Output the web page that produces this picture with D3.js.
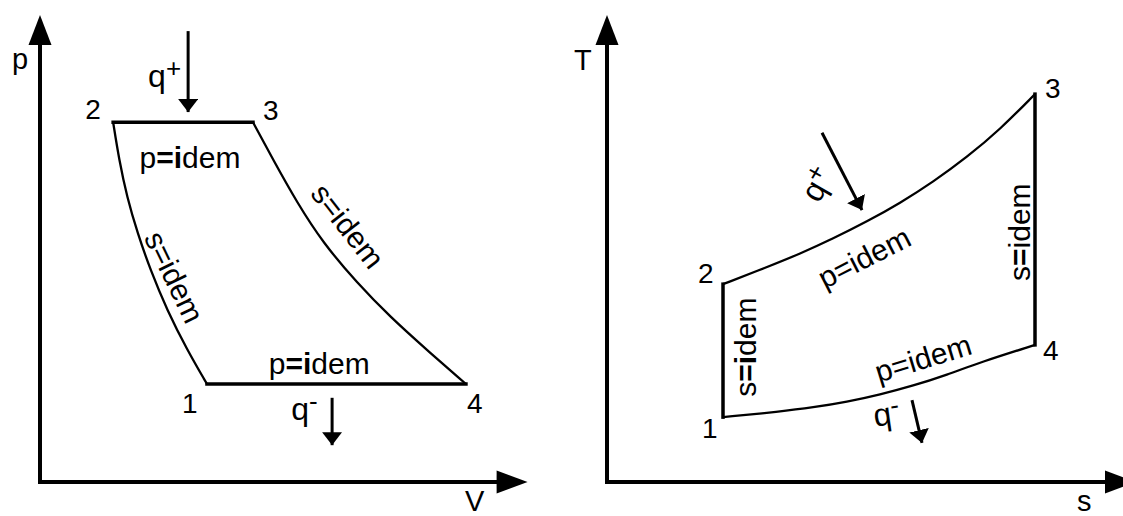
<!DOCTYPE html>
<html lang="en">
<head>
  <meta charset="UTF-8" />
  <script src="https://d3js.org/d3.v7.min.js"></script>
  <title>p-V and T-s diagrams</title>
  <style>
    html, body { margin: 0; padding: 0; background: #fff; }
    svg { display: block; font-family: "Liberation Sans", Arial, sans-serif; }
  </style>
</head>
<body>
  <svg width="1123" height="516"></svg>

  <script>
    // ---- data: p-V diagram (V, p) ----
    const pvStates = [
      { name: "1", v: 36.3, p: 21.3, dx: -25, dy: 29 },
      { name: "2", v: 15.9, p: 78.2, dx: -28, dy: -3 },
      { name: "3", v: 46.3, p: 78.2, dx: 10, dy: -2 },
      { name: "4", v: 92.6, p: 21.3, dx: 1, dy: 29 }
    ];
    // compression 1 -> 2 (isentrope)
    const pvCompression = [
      [36.3, 21.3], [32.0, 28.7], [27.6, 37.4], [24.0, 46.1],
      [21.2, 54.1], [18.9, 62.0], [17.2, 70.0], [15.9, 78.2]
    ];
    // expansion 3 -> 4 (isentrope)
    const pvExpansion = [
      [46.3, 78.2], [50.7, 70.0], [55.9, 60.7], [61.5, 52.0],
      [68.9, 43.3], [76.1, 35.9], [84.1, 28.7], [92.6, 21.3]
    ];

    // ---- data: T-s diagram (s, T) ----
    const tsStates = [
      { name: "1", s: 23.2, t: 14.1, dx: -21, dy: 21 },
      { name: "2", s: 23.2, t: 43.0, dx: -25, dy: -1 },
      { name: "3", s: 85.6, t: 84.3, dx: 10, dy: 4 },
      { name: "4", s: 85.6, t: 29.8, dx: 8, dy: 15 }
    ];
    // heat addition 2 -> 3 (isobar)
    const tsHeating = [
      [23.2, 43.0], [32.0, 46.7], [38.6, 49.6], [45.2, 52.9], [52.0, 56.6],
      [58.6, 60.6], [65.2, 65.2], [72.0, 70.6], [78.6, 76.6], [85.6, 84.3]
    ];
    // heat rejection 4 -> 1 (isobar)
    const tsCooling = [
      [23.2, 14.1], [34.6, 15.3], [41.2, 16.2], [48.0, 17.4], [54.6, 19.0],
      [61.2, 20.9], [68.0, 23.3], [74.6, 26.0], [85.6, 29.8]
    ];

    // process labels: [x, y, angle, text parts [text, bold]]
    const pvLabels = [
      [32.6, 70.7, 0, [["p", 0], ["=", 1], ["i", 1], ["dem", 0]]],
      [60.7, 25.9, 0, [["p", 0], ["=", 1], ["i", 1], ["dem", 0]]],
      [29.3, 44.6, 64, [["s=idem", 0]]],
      [67.0, 55.7, 52, [["s=idem", 0]]]
    ];
    const tsLabels = [
      [51.4, 48.9, -27, [["p=idem", 0]]],
      [63.2, 27.0, -17, [["p=idem", 0]]],
      [27.6, 29.3, -90, [["s", 0], ["=", 1], ["i", 1], ["dem", 0]]],
      [82.4, 54.3, -90, [["s", 0], ["=", 1], ["idem", 0]]]
    ];
    // heat arrows: from, to, label position, label angle, sign
    const pvHeat = [
      { from: [32.2, 98.0], to: [32.2, 80.4], at: [23.5, 85.9], angle: 0, sign: "+" },
      { from: [63.5, 18.3], to: [63.5, 8.0], at: [54.6, 13.5], angle: 0, sign: "-" }
    ];
    const tsHeat = [
      { from: [43.0, 75.9], to: [51.0, 59.1], at: [44.0, 63.5], angle: -60, sign: "+", mid: true },
      { from: [61.0, 17.8], to: [63.0, 8.5], at: [53.6, 12.0], angle: -8, sign: "-" }
    ];

    const svg = d3.select("svg");

    const defs = svg.append("defs");
    defs.append("marker")
      .attr("id", "head")
      .attr("viewBox", "0 0 10 10")
      .attr("refX", 10).attr("refY", 5)
      .attr("markerUnits", "userSpaceOnUse")
      .attr("markerWidth", 13).attr("markerHeight", 20)
      .attr("orient", "auto")
      .attr("preserveAspectRatio", "none")
      .append("path").attr("d", "M0,0 L10,5 L0,10 Z").attr("fill", "#000");

    // draw one diagram
    function diagram(opt) {
      const x = d3.scaleLinear().domain([0, opt.xMax]).range(opt.xRange);
      const y = d3.scaleLinear().domain([0, opt.yMax]).range(opt.yRange);
      const g = svg.append("g");
      const x0 = x(0), y0 = y(0), xt = x(opt.xMax), yt = y(opt.yMax);

      // axes with arrowheads
      g.append("path")
        .attr("d", `M${x0},${yt + 28}V${y0}H${xt - 28}`)
        .attr("fill", "none").attr("stroke", "#000").attr("stroke-width", 4)
        .attr("stroke-linejoin", "miter");
      g.append("path")
        .attr("d", `M${x0},${yt}L${x0 - 11.5},${yt + 30}L${x0 + 11.5},${yt + 30}Z`)
        .attr("fill", "#000");
      g.append("path")
        .attr("d", `M${xt},${y0}L${xt - 31},${y0 - 11.5}L${xt - 31},${y0 + 11.5}Z`)
        .attr("fill", "#000");

      g.append("text").attr("x", opt.yLabel[0]).attr("y", opt.yLabel[1])
        .attr("font-size", 29).text(opt.yName);
      g.append("text").attr("x", opt.xLabel[0]).attr("y", opt.xLabel[1])
        .attr("font-size", 29).text(opt.xName);

      const line = d3.line().x(d => x(d[0])).y(d => y(d[1]));
      const smooth = d3.line().x(d => x(d[0])).y(d => y(d[1])).curve(d3.curveBasis);

      opt.straight.forEach(seg => {
        g.append("path").attr("d", line(seg))
          .attr("fill", "none").attr("stroke", "#000").attr("stroke-width", 3.5)
          .attr("stroke-linecap", "square");
      });
      opt.curves.forEach(seg => {
        g.append("path").attr("d", smooth(seg))
          .attr("fill", "none").attr("stroke", "#000").attr("stroke-width", 2.3);
      });

      // state numbers
      g.selectAll(".state").data(opt.states).join("text")
        .attr("x", d => x(d[opt.xKey]) + d.dx)
        .attr("y", d => y(d[opt.yKey]) + d.dy)
        .attr("font-size", 28)
        .text(d => d.name);

      // process labels
      opt.labels.forEach(l => {
        const t = g.append("text")
          .attr("transform", `translate(${x(l[0])},${y(l[1])}) rotate(${l[2]})`)
          .attr("text-anchor", "middle")
          .attr("dominant-baseline", "central")
          .attr("font-size", 30);
        l[3].forEach(p => t.append("tspan").attr("font-weight", p[1] ? "bold" : "normal").text(p[0]));
      });

      // heat flow arrows
      opt.heat.forEach(h => {
        g.append("line")
          .attr("x1", x(h.from[0])).attr("y1", y(h.from[1]))
          .attr("x2", x(h.to[0])).attr("y2", y(h.to[1]))
          .attr("stroke", "#000").attr("stroke-width", 3)
          .attr("marker-end", "url(#head)");
        const t = g.append("text")
          .attr("transform", `translate(${x(h.at[0])},${y(h.at[1])}) rotate(${h.angle})`)
          .attr("text-anchor", h.mid ? "middle" : "start")
          .attr("font-size", 32);
        t.append("tspan").text("q");
        t.append("tspan").attr("font-size", 26).attr("dy", -10).text(h.sign);
      });
    }

    diagram({
      xMax: 106, yMax: 101.5, xRange: [40, 527.6], yRange: [482, 15],
      xKey: "v", yKey: "p", xName: "V", yName: "p",
      xLabel: [465, 511], yLabel: [12, 69],
      states: pvStates,
      straight: [
        [[pvStates[1].v, pvStates[1].p], [pvStates[2].v, pvStates[2].p]],
        [[pvStates[0].v, pvStates[0].p], [pvStates[3].v, pvStates[3].p]]
      ],
      curves: [pvCompression, pvExpansion],
      labels: pvLabels,
      heat: pvHeat
    });

    diagram({
      xMax: 105.8, yMax: 101.5, xRange: [607, 1136], yRange: [482, 15],
      xKey: "s", yKey: "t", xName: "s", yName: "T",
      xLabel: [1077, 511], yLabel: [574, 70],
      states: tsStates,
      straight: [
        [[tsStates[0].s, tsStates[0].t], [tsStates[1].s, tsStates[1].t]],
        [[tsStates[3].s, tsStates[3].t], [tsStates[2].s, tsStates[2].t]]
      ],
      curves: [tsHeating, tsCooling],
      labels: tsLabels,
      heat: tsHeat
    });
  </script>
</body>
</html>
